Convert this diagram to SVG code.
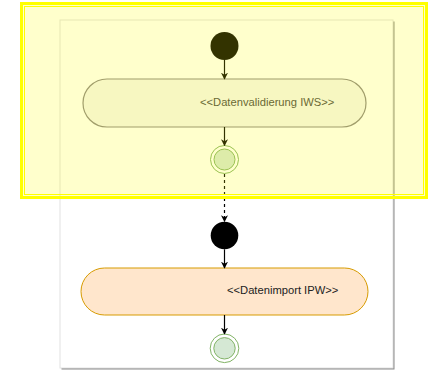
<svg xmlns="http://www.w3.org/2000/svg" width="432" height="370" viewBox="0 0 432 370">
<defs>
<marker id="arr" viewBox="0 0 10 10" refX="9" refY="5" markerWidth="7" markerHeight="7" markerUnits="userSpaceOnUse" orient="auto">
<path d="M0,0 L10,5 L0,10 L3,5 Z" fill="#000"/>
</marker>
<style>
.conn{stroke:#000;stroke-width:1.2;fill:none}
.dash{stroke-dasharray:3,3}
.start{fill:#000}
.endo{fill:none;stroke:#82b366;stroke-width:1}
.endi{fill:#d5e8d4;stroke:#82b366;stroke-width:1}
.lbl{font-family:"Liberation Sans",Arial,sans-serif;font-size:11.2px;fill:#222}
</style>
</defs>
<rect x="0" y="0" width="432" height="370" fill="#fff"/>
<g id="page">
<rect x="61.5" y="21.5" width="333" height="348" fill="#8a8a8a"/>
<rect x="60" y="20" width="333" height="348" fill="#fff" stroke="#e2e2e2" stroke-width="1"/>
</g>
<g id="start1"><circle class="start" cx="224.5" cy="46" r="14"/></g>
<g id="action1">
<rect x="83" y="79" width="283" height="48" rx="24" ry="24" fill="#f6f5f2" stroke="#8a8686" stroke-width="1.2"/>
<text class="lbl" x="200" y="106" fill="#444" style="fill:#444">&lt;&lt;Datenvalidierung IWS&gt;&gt;</text>
</g>
<g id="end1"><circle class="endo" cx="224.5" cy="159.5" r="14"/><circle class="endi" cx="224.5" cy="159.5" r="10.5"/></g>
<g id="start2"><circle class="start" cx="224.5" cy="235.5" r="13.8"/></g>
<g id="action2">
<rect x="81" y="268" width="287" height="47" rx="23.5" ry="23.5" fill="#ffe6cc" stroke="#d79b00" stroke-width="1"/>
<text class="lbl" x="227" y="294">&lt;&lt;Datenimport IPW&gt;&gt;</text>
</g>
<g id="end2"><circle class="endo" cx="224.5" cy="348.3" r="14.3"/><circle class="endi" cx="224.5" cy="348.3" r="10.7"/></g>
<g id="connectors">
<line class="conn" x1="224.5" y1="60" x2="224.5" y2="79" marker-end="url(#arr)"/>
<line class="conn" x1="224.5" y1="127" x2="224.5" y2="145.5" marker-end="url(#arr)"/>
<line class="conn dash" x1="224.5" y1="174" x2="224.5" y2="221.5" marker-end="url(#arr)"/>
<line class="conn" x1="224.5" y1="249.3" x2="224.5" y2="268" marker-end="url(#arr)"/>
<line class="conn" x1="224.5" y1="315" x2="224.5" y2="334" marker-end="url(#arr)"/>
</g>
<g id="highlight">
<rect x="21.5" y="3.5" width="405" height="194" fill="#ffff00" fill-opacity="0.2" stroke="#ffff00" stroke-width="3"/>
<rect x="24.5" y="6.5" width="399" height="188" fill="none" stroke="#ffff00" stroke-width="1"/>
</g>
</svg>
